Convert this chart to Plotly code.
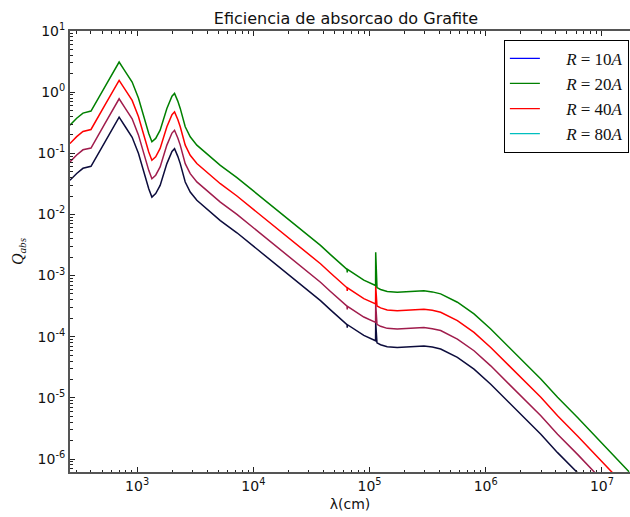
import plotly.graph_objects as go

# wavelength (cm)
lam = [264, 302, 342, 401, 525, 603, 700, 794, 906, 1026, 1172, 1259, 1340, 1445, 1578,
       1803, 1995, 2099, 2239, 2350, 2594, 2864, 3266, 3981, 5200, 7228, 19950, 37840, 46130,
       64000, 64300, 64600, 89300, 112700, 113000, 115900, 124500, 141900, 173000,
       199500, 251200, 293800, 346700, 409300, 570200, 792500, 1.104e6, 1.538e6,
       2.143e6, 2.979e6, 4.150e6, 6.166e6, 1.71e7]

q_navy = [0.0361, 0.0468, 0.0568, 0.0612, 0.150, 0.237, 0.389, 0.269, 0.183, 0.100,
          0.0409, 0.0263, 0.0192, 0.0219, 0.0299, 0.0678, 0.107, 0.119, 0.0891, 0.0678,
          0.0339, 0.0232, 0.0170, 0.0124, 0.00794, 0.00501, 0.00105, 3.89e-4, 2.75e-4,
          1.58e-4, 1.40e-4, 1.57e-4, 1.05e-4, 8.59e-5, 1.70e-4, 7.94e-5, 7.40e-5, 6.85e-5,
          6.68e-5, 6.76e-5, 7.00e-5, 7.03e-5, 6.76e-5, 6.28e-5, 4.58e-5, 2.95e-5, 1.67e-5,
          8.93e-6, 4.76e-6, 2.54e-6, 1.27e-6, 5.96e-7, 7.74e-8]

q_purple = [0.0722, 0.0936, 0.114, 0.122, 0.300, 0.474, 0.778, 0.538, 0.366, 0.200,
            0.0818, 0.0526, 0.0384, 0.0438, 0.0598, 0.136, 0.214, 0.238, 0.178, 0.136,
            0.0678, 0.0464, 0.0340, 0.0248, 0.0159, 0.0100, 0.00210, 7.78e-4, 5.50e-4,
            3.16e-4, 2.80e-4, 3.14e-4, 2.10e-4, 1.72e-4, 3.42e-4, 1.59e-4, 1.48e-4, 1.37e-4,
            1.34e-4, 1.35e-4, 1.40e-4, 1.41e-4, 1.35e-4, 1.26e-4, 9.16e-5, 5.90e-5, 3.34e-5,
            1.79e-5, 9.52e-6, 5.08e-6, 2.54e-6, 1.19e-6, 1.55e-7]

q_red = [0.144, 0.187, 0.227, 0.245, 0.600, 0.948, 1.56, 1.08, 0.732, 0.400,
         0.164, 0.105, 0.0768, 0.0876, 0.120, 0.271, 0.428, 0.476, 0.356, 0.271,
         0.136, 0.0928, 0.0680, 0.0496, 0.0318, 0.0200, 0.00420, 1.56e-3, 1.10e-3,
         6.32e-4, 5.60e-4, 6.28e-4, 4.20e-4, 3.44e-4, 6.80e-4, 3.18e-4, 2.96e-4, 2.74e-4,
         2.67e-4, 2.70e-4, 2.80e-4, 2.81e-4, 2.70e-4, 2.51e-4, 1.83e-4, 1.18e-4, 6.68e-5,
         3.57e-5, 1.90e-5, 1.02e-5, 5.08e-6, 2.38e-6, 3.10e-7]

q_green = [0.289, 0.374, 0.454, 0.490, 1.20, 1.90, 3.11, 2.15, 1.46, 0.800,
           0.327, 0.210, 0.154, 0.175, 0.239, 0.542, 0.856, 0.952, 0.713, 0.542,
           0.271, 0.186, 0.136, 0.0992, 0.0635, 0.0401, 0.00840, 3.11e-3, 2.20e-3,
           1.26e-3, 1.12e-3, 1.26e-3, 8.40e-4, 6.87e-4, 2.40e-3, 6.35e-4, 5.92e-4, 5.48e-4,
           5.34e-4, 5.41e-4, 5.60e-4, 5.62e-4, 5.41e-4, 5.02e-4, 3.66e-4, 2.36e-4, 1.34e-4,
           7.14e-5, 3.81e-5, 2.03e-5, 1.02e-5, 4.77e-6, 6.19e-7]

pad = "&nbsp;" * 5
legend_names = [pad + "<i>R</i> = 10<i>A</i>", pad + "<i>R</i> = 20<i>A</i>",
                pad + "<i>R</i> = 40<i>A</i>", pad + "<i>R</i> = 80<i>A</i>"]
legend_colors = ["#0000ff", "#008000", "#ff0000", "#00bfbf"]

x_tickvals = [1e3, 1e4, 1e5, 1e6, 1e7]
x_ticktext = ["10<sup>3</sup>", "10<sup>4</sup>", "10<sup>5</sup>", "10<sup>6</sup>", "10<sup>7</sup>"]
y_tickvals = [1e-6, 1e-5, 1e-4, 1e-3, 1e-2, 1e-1, 1e0, 1e1]
y_ticktext = ["10<sup>-6</sup>", "10<sup>-5</sup>", "10<sup>-4</sup>", "10<sup>-3</sup>",
              "10<sup>-2</sup>", "10<sup>-1</sup>", "10<sup>0</sup>", "10<sup>1</sup>"]

fig = go.Figure()
for q, c in [(q_navy, "#0c0c3c"), (q_purple, "#a01c4c"), (q_red, "#ff0000"), (q_green, "#008000")]:
    fig.add_trace(go.Scatter(x=lam, y=q, mode="lines", line=dict(color=c, width=1.5),
                             showlegend=False, hoverinfo="skip"))
for i, (n, c) in enumerate(zip(legend_names, legend_colors)):
    fig.add_trace(go.Scatter(x=[None], y=[None], mode="lines", name=n,
                             legendgroup=f"g{i}", line=dict(color=c, width=1.2)))

minor_x = [m * 10 ** k for k in range(2, 8) for m in range(2, 10)]
minor_y = [m * 10.0 ** k for k in range(-7, 1) for m in range(2, 10)]

axis_common = dict(type="log", showline=True, linecolor="#555555", linewidth=2,
                   ticks="inside", ticklen=5, tickwidth=1, tickcolor="#222222",
                   showgrid=False, zeroline=False, automargin=False,
                   tickfont=dict(family="DejaVu Sans", size=14, color="#111111"))

fig.update_xaxes(**axis_common, range=[2.4224, 7.2414], tickvals=x_tickvals, ticktext=x_ticktext,
                 mirror="ticks",
                 minor=dict(ticks="inside", ticklen=2.5, tickcolor="#222222", tickvals=minor_x, showgrid=False),
                 title=dict(text="λ(cm)", font=dict(family="DejaVu Sans", size=14, color="#111111"), standoff=6))
fig.update_yaxes(**axis_common, range=[-6.2126, 1.0], tickvals=y_tickvals, ticktext=y_ticktext,
                 mirror=False,
                 minor=dict(ticks="inside", ticklen=2.5, tickcolor="#222222", tickvals=minor_y, showgrid=False),
                 title=dict(text="<i>Q</i><sub><i>abs</i></sub>",
                            font=dict(family="Liberation Serif", size=16, color="#111111"), standoff=10))

fig.update_layout(
    width=630, height=517,
    margin=dict(l=70, r=0, t=31, b=45),
    paper_bgcolor="white", plot_bgcolor="white",
    title=dict(text="Eficiencia de absorcao do Grafite", x=346 / 630, xanchor="center",
               y=1 - 18 / 517, yanchor="middle",
               font=dict(family="DejaVu Sans", size=16, color="#111111")),
    legend=dict(x=0.998, y=0.98, xanchor="right", yanchor="top",
                bordercolor="#000000", borderwidth=1, bgcolor="white",
                font=dict(family="Liberation Serif", size=17, color="#111111"),
                tracegroupgap=0, itemwidth=30),
)

fig.write_html("out.html", config={"displayModeBar": False},
               post_script="document.body.style.margin='0px';")
